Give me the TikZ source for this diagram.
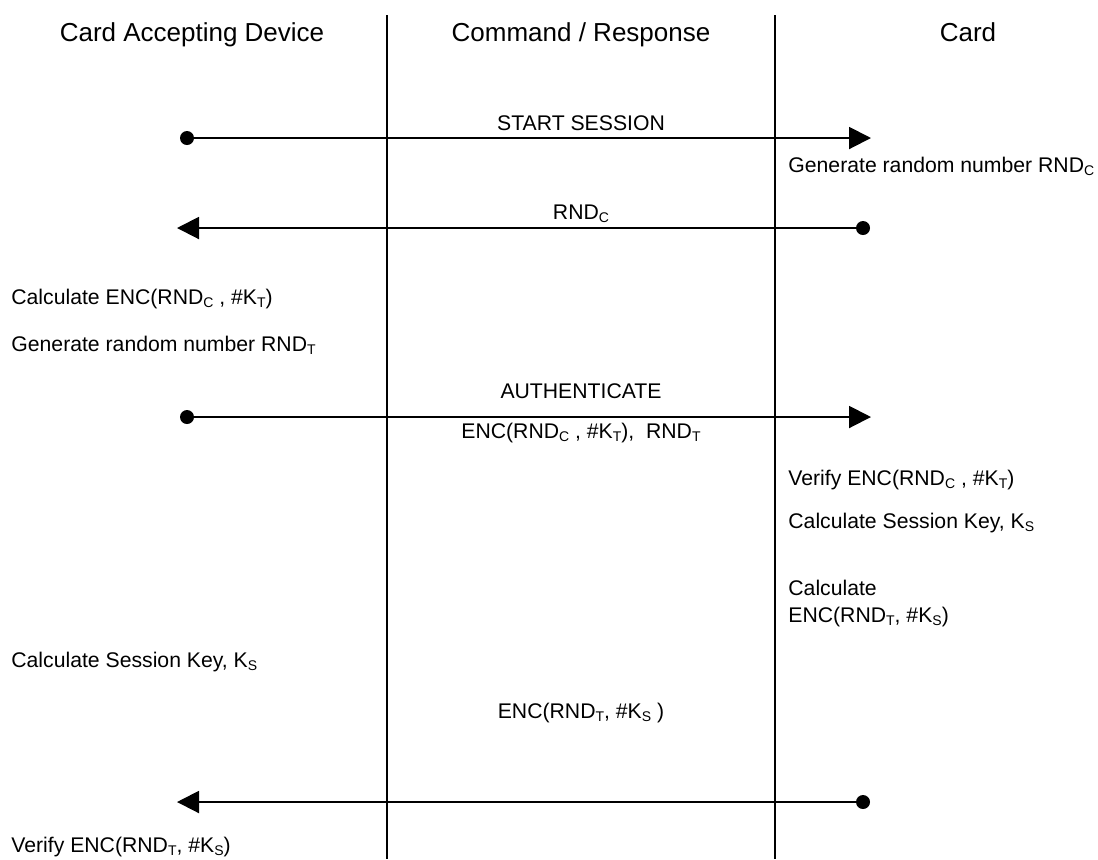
\documentclass[tikz,border=0pt]{standalone}
\usepackage{fontspec}
\setmainfont{Liberation Sans}
\usetikzlibrary{arrows.meta}

% subscript letter, set small and lowered
\newcommand{\lowsub}[1]{\raisebox{-0.3ex}{\fontsize{7}{8}\selectfont #1}}

\tikzset{
  lane/.style={line width=0.7pt, black},
  msg/.style={line width=1pt, black, -{Triangle[length=11pt,width=11pt]}},
  origin/.style={circle, fill=black, inner sep=0pt, minimum size=7pt},
  head/.style={inner sep=0pt, font=\fontsize{13}{15}\selectfont},
  txt/.style={inner sep=0pt, anchor=base west, font=\fontsize{10.6}{13}\selectfont},
  ctxt/.style={txt, anchor=base}
}

\begin{document}
\begin{tikzpicture}[x=0.5pt, y=-0.5pt]
  \useasboundingbox (0,0) rectangle (1098,859);

  % column separators
  \coordinate (l1top) at (387,15);
  \coordinate (l1bot) at (387,859);
  \coordinate (l2top) at (775,15);
  \coordinate (l2bot) at (775,859);
  \draw[lane] (l1top) -- (l1bot);
  \draw[lane] (l2top) -- (l2bot);

  % column headings
  \node[head, anchor=base] (hcad) at (192,41) {Card Accepting Device};
  \node[head, anchor=base] (hcr)  at (581,41) {Command / Response};
  \node[head, anchor=base] (hcard) at (968,41) {Card};

  % START SESSION
  \node[origin] (d1) at (187,138) {};
  \coordinate (t1) at (871,138);
  \draw[msg] (d1.center) -- (t1);
  \node[ctxt] (m1) at (581,130) {START SESSION};
  \node[txt] (c1) at (788,172) {Generate random number RND\lowsub{C}};

  % RND_C back to the device
  \node[origin] (d2) at (863,228) {};
  \coordinate (t2) at (177,228);
  \draw[msg] (d2.center) -- (t2);
  \node[ctxt] (m2) at (581,219) {RND\lowsub{C}};

  % device side
  \node[txt] (a1) at (11,304) {Calculate ENC(RND\lowsub{C} , \#K\lowsub{T})};
  \node[txt] (a2) at (11,351) {Generate random number RND\lowsub{T}};

  % AUTHENTICATE
  \node[origin] (d3) at (187,417) {};
  \coordinate (t3) at (871,417);
  \draw[msg] (d3.center) -- (t3);
  \node[ctxt] (m3) at (581,398) {AUTHENTICATE};
  \node[ctxt] (m3b) at (581,438) {ENC(RND\lowsub{C} , \#K\lowsub{T}),\ \ RND\lowsub{T}};

  % card side
  \node[txt] (c2) at (788,485) {Verify ENC(RND\lowsub{C} , \#K\lowsub{T})};
  \node[txt] (c3) at (788,528) {Calculate Session Key, K\lowsub{S}};
  \node[txt] (c4) at (788,595) {Calculate};
  \node[txt] (c5) at (788,622) {ENC(RND\lowsub{T}, \#K\lowsub{S})};

  \node[txt] (a3) at (11,667) {Calculate Session Key, K\lowsub{S}};

  % response
  \node[ctxt] (m4) at (581,718) {ENC(RND\lowsub{T}, \#K\lowsub{S} )};
  \node[origin] (d4) at (863,802) {};
  \coordinate (t4) at (177,802);
  \draw[msg] (d4.center) -- (t4);

  \node[txt] (a4) at (11,852) {Verify ENC(RND\lowsub{T}, \#K\lowsub{S})};
\end{tikzpicture}
\end{document}
